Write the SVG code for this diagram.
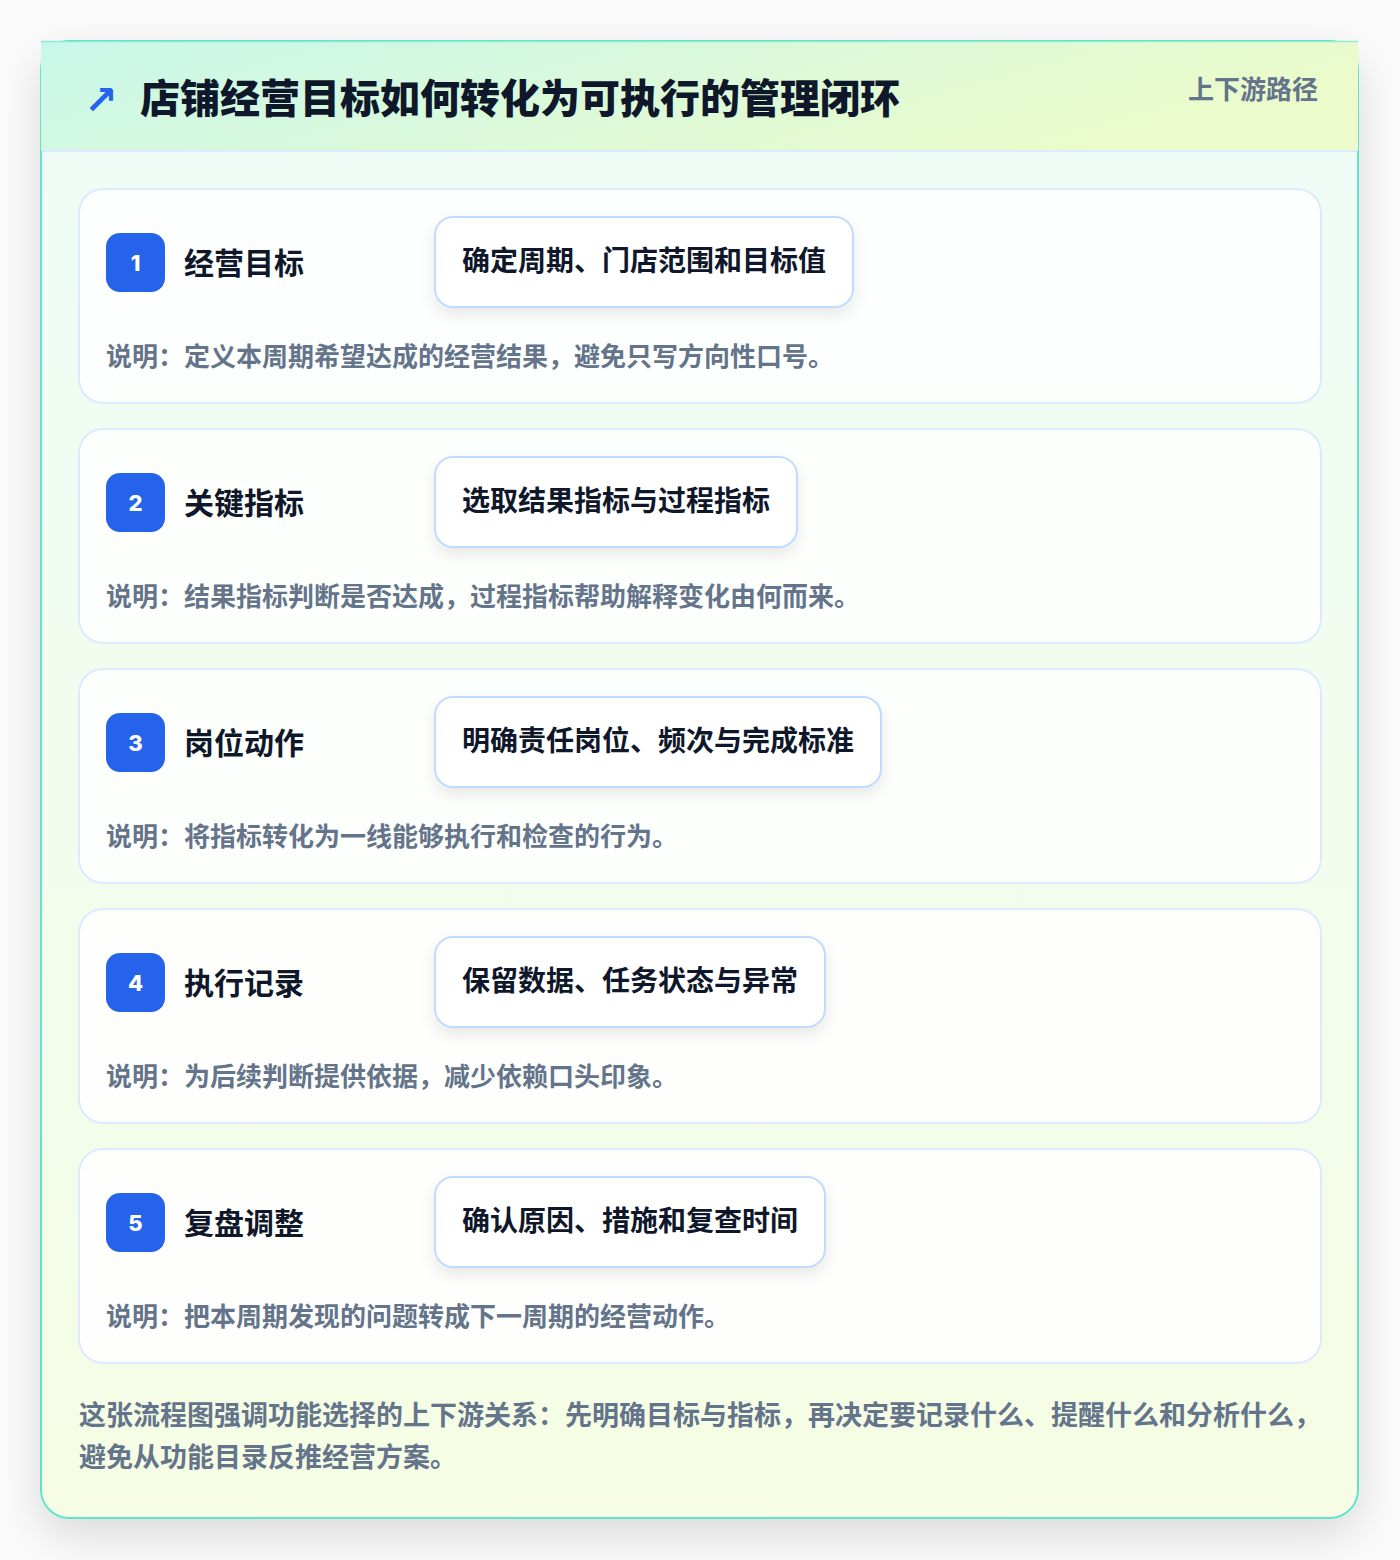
<svg xmlns="http://www.w3.org/2000/svg" width="1400" height="1560" viewBox="0 0 1400 1560">
<defs>
<style>
.t{font-family:"Noto Sans CJK SC","Liberation Sans",sans-serif;font-weight:700}
.title{font-size:40px;fill:#0f172a;font-weight:900}
.tag{font-size:26px;fill:#64748b}
.lbl{font-size:30px;fill:#0f172a}
.pt{font-size:28px;fill:#0f172a}
.desc{font-size:26px;fill:#64748b}
.foot{font-size:27px;fill:#64748b}
.num{font-family:"Inter","Liberation Sans",sans-serif;font-weight:800;font-size:22px;fill:#ffffff}
.card{fill:#ffffff;fill-opacity:0.85;stroke:#dbeafe;stroke-width:2}
.badge{fill:#2563eb}
.pill{fill:#ffffff;stroke:#bfdbfe;stroke-width:2}
</style>
<linearGradient id="hdr" x1="0" y1="0" x2="1" y2="0.3">
<stop offset="0" stop-color="#c8f7ea"/>
<stop offset="1" stop-color="#ebfbcb"/>
</linearGradient>
<linearGradient id="body" x1="0" y1="0" x2="0" y2="1">
<stop offset="0" stop-color="#eefcf7"/>
<stop offset="1" stop-color="#f6fde4"/>
</linearGradient>
<filter id="sh" x="-10%" y="-10%" width="120%" height="120%">
<feGaussianBlur in="SourceAlpha" stdDeviation="22"/>
<feOffset dy="16"/>
<feComponentTransfer><feFuncA type="linear" slope="0.13"/></feComponentTransfer>
<feMerge><feMergeNode/><feMergeNode in="SourceGraphic"/></feMerge>
</filter>
<filter id="psh" x="-20%" y="-40%" width="140%" height="190%">
<feGaussianBlur in="SourceAlpha" stdDeviation="8"/>
<feOffset dy="7"/>
<feComponentTransfer><feFuncA type="linear" slope="0.09"/></feComponentTransfer>
<feMerge><feMergeNode/><feMergeNode in="SourceGraphic"/></feMerge>
</filter>
</defs>
<rect width="1400" height="1560" fill="#fafafa"/>
<g id="frame">
<rect x="41" y="41" width="1317" height="1477" rx="28" fill="url(#body)" stroke="#62e3cc" stroke-width="2" filter="url(#sh)"/>
<rect x="41" y="41" width="1317" height="110" fill="url(#hdr)"/>
<line x1="41" y1="41.5" x2="1358" y2="41.5" stroke="#62e3cc" stroke-width="1.5" opacity="0.6"/>
<line x1="42" y1="151" x2="1357" y2="151" stroke="#dbeafe" stroke-width="2"/>
</g>
<g id="header">
<text x="84" y="114" font-size="40" fill="#2563eb" style="font-family:'DejaVu Sans',sans-serif;font-weight:700">↗</text>
<text class="t title" x="140" y="113">店铺经营目标如何转化为可执行的管理闭环</text>
<text class="t tag" x="1318" y="99" text-anchor="end">上下游路径</text>
</g>
<g id="step1">
<rect class="card" x="79" y="189" width="1242" height="214" rx="24"/>
<rect class="badge" x="106" y="233" width="59" height="59" rx="14"/>
<text class="num" x="135.5" y="271" text-anchor="middle">1</text>
<text class="t lbl" x="184" y="274">经营目标</text>
<rect class="pill" x="435" y="217" width="418" height="90" rx="18" filter="url(#psh)"/>
<text class="t pt" x="462" y="271">确定周期、门店范围和目标值</text>
<text class="t desc" x="106" y="366">说明：定义本周期希望达成的经营结果，避免只写方向性口号。</text>
</g>
<g id="step2">
<rect class="card" x="79" y="429" width="1242" height="214" rx="24"/>
<rect class="badge" x="106" y="473" width="59" height="59" rx="14"/>
<text class="num" x="135.5" y="511" text-anchor="middle">2</text>
<text class="t lbl" x="184" y="514">关键指标</text>
<rect class="pill" x="435" y="457" width="362" height="90" rx="18" filter="url(#psh)"/>
<text class="t pt" x="462" y="511">选取结果指标与过程指标</text>
<text class="t desc" x="106" y="606">说明：结果指标判断是否达成，过程指标帮助解释变化由何而来。</text>
</g>
<g id="step3">
<rect class="card" x="79" y="669" width="1242" height="214" rx="24"/>
<rect class="badge" x="106" y="713" width="59" height="59" rx="14"/>
<text class="num" x="135.5" y="751" text-anchor="middle">3</text>
<text class="t lbl" x="184" y="754">岗位动作</text>
<rect class="pill" x="435" y="697" width="446" height="90" rx="18" filter="url(#psh)"/>
<text class="t pt" x="462" y="751">明确责任岗位、频次与完成标准</text>
<text class="t desc" x="106" y="846">说明：将指标转化为一线能够执行和检查的行为。</text>
</g>
<g id="step4">
<rect class="card" x="79" y="909" width="1242" height="214" rx="24"/>
<rect class="badge" x="106" y="953" width="59" height="59" rx="14"/>
<text class="num" x="135.5" y="991" text-anchor="middle">4</text>
<text class="t lbl" x="184" y="994">执行记录</text>
<rect class="pill" x="435" y="937" width="390" height="90" rx="18" filter="url(#psh)"/>
<text class="t pt" x="462" y="991">保留数据、任务状态与异常</text>
<text class="t desc" x="106" y="1086">说明：为后续判断提供依据，减少依赖口头印象。</text>
</g>
<g id="step5">
<rect class="card" x="79" y="1149" width="1242" height="214" rx="24"/>
<rect class="badge" x="106" y="1193" width="59" height="59" rx="14"/>
<text class="num" x="135.5" y="1231" text-anchor="middle">5</text>
<text class="t lbl" x="184" y="1234">复盘调整</text>
<rect class="pill" x="435" y="1177" width="390" height="90" rx="18" filter="url(#psh)"/>
<text class="t pt" x="462" y="1231">确认原因、措施和复查时间</text>
<text class="t desc" x="106" y="1326">说明：把本周期发现的问题转成下一周期的经营动作。</text>
</g>
<g id="connectors"></g>
<g id="footer">
<text class="t foot" x="79" y="1425">这张流程图强调功能选择的上下游关系：先明确目标与指标，再决定要记录什么、提醒什么和分析什么，</text>
<text class="t foot" x="79" y="1467">避免从功能目录反推经营方案。</text>
</g>
</svg>
